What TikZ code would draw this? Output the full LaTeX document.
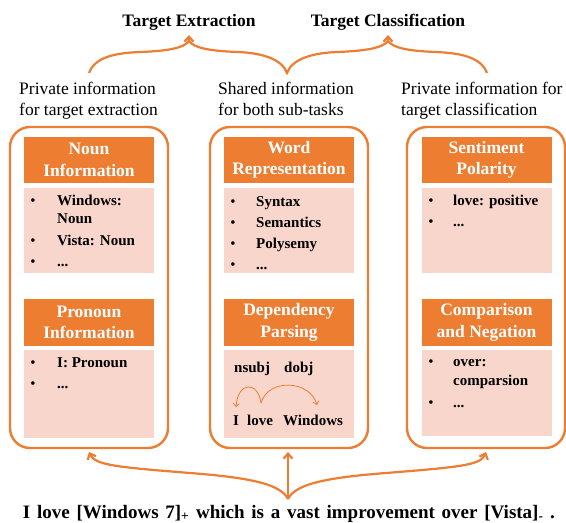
\documentclass[tikz,border=0pt]{standalone}
\usepackage{fontspec}
\setmainfont{Liberation Serif}
\usetikzlibrary{arrows.meta}
\definecolor{orng}{HTML}{ED7D31}
\definecolor{pch}{HTML}{F8D6CC}
\begin{document}
\begin{tikzpicture}[x=1pt,y=-1pt,
  outer/.style={draw=orng,line width=2.4pt,rounded corners=20pt,minimum width=158pt,minimum height=321pt,inner sep=0pt},
  hdr/.style={fill=orng,text=white,font=\bfseries\fontsize{17.5}{21.5}\selectfont,align=center,minimum width=130pt,inner sep=0pt},
  cnt/.style={fill=pch,minimum width=130pt,inner sep=0pt},
  itm/.style={anchor=base west,inner sep=0pt,font=\bfseries\fontsize{15}{18}\selectfont},
  bul/.style={anchor=base,inner sep=0pt,font=\fontsize{15}{18}\selectfont},
  lbl/.style={anchor=base west,inner sep=0pt,font=\fontsize{17.5}{21}\selectfont},
  ttl/.style={anchor=base,inner sep=0pt,font=\bfseries\fontsize{17.5}{21}\selectfont},
  brc/.style={draw=orng,line width=2.2pt},
  arr/.style={-{Straight Barb[length=5pt,width=9pt]}},
  thin/.style={draw=orng,line width=0.8pt,-{Straight Barb[length=3pt,width=6pt]}}
]
\useasboundingbox (0,0) rectangle (566,523);

% titles
\node[ttl] (te) at (189,26) {Target Extraction};
\node[ttl] (tc) at (388,26) {Target Classification};

% labels
\node[lbl] (l1a) at (19,94.5) {Private information};
\node[lbl] (l1b) at (19,115) {for target extraction};
\node[lbl] (l2a) at (218,94.5) {Shared information};
\node[lbl] (l2b) at (218,115) {for both sub-tasks};
\node[lbl] (l3a) at (401,94.5) {Private information for};
\node[lbl] (l3b) at (401,115) {target classification};

% top braces
\coordinate (e1) at (89,73);
\coordinate (t1) at (189,41);
\coordinate (j1) at (287,73);
\coordinate (t2) at (388,41);
\coordinate (e2) at (487,73);
\coordinate (t1h) at (189,35);
\coordinate (t2h) at (388,35);
\draw[brc] (e1) .. controls (95,57) and (115,53) .. (140,52) .. controls (168,51) and (184,48) .. (t1)
  .. controls (194,48) and (210,51) .. (238,52) .. controls (262,53) and (282,59) .. (j1)
  .. controls (292,59) and (312,53) .. (337,52) .. controls (365,51) and (383,48) .. (t2)
  .. controls (393,48) and (409,51) .. (436,52) .. controls (460,53) and (481,57) .. (e2);
\draw[brc,arr] (t1) -- (t1h);
\draw[brc,arr] (t2) -- (t2h);

% outer boxes
\node[outer] (bL) at (89,287.5) {};
\node[outer] (bM) at (289,287.5) {};
\node[outer] (bR) at (486,287.5) {};

% headers
\node[hdr,minimum height=46pt] (hL1) at (89,160) {Noun\\Information};
\node[hdr,minimum height=47pt] (hL2) at (89,322.5) {Pronoun\\Information};
\node[hdr,minimum height=46pt] (hM1) at (289,160) {Word\\Representation};
\node[hdr,minimum height=47pt] (hM2) at (289,322.5) {Dependency\\Parsing};
\node[hdr,minimum height=46pt] (hR1) at (486.5,160) {Sentiment\\Polarity};
\node[hdr,minimum height=47pt] (hR2) at (486.5,322.5) {Comparison\\and Negation};

% content boxes
\node[cnt,minimum height=85pt] (cL1) at (89,230.5) {};
\node[cnt,minimum height=88pt] (cL2) at (89,394) {};
\node[cnt,minimum height=85pt] (cM1) at (289,230.5) {};
\node[cnt,minimum height=88pt] (cM2) at (289,394) {};
\node[cnt,minimum height=85pt] (cR1) at (486.5,230.5) {};
\node[cnt,minimum height=86pt] (cR2) at (486.5,393) {};

% left items
\node[bul] (bL1) at (33,205.5) {•};
\node[itm] (iL1) at (57,205.5) {Windows:};
\node[itm] (iL1b) at (57,223) {Noun};
\node[bul] (bL2) at (33,245) {•};
\node[itm] (iL2) at (57,245) {Vista: Noun};
\node[bul] (bL3) at (33,266.5) {•};
\node[itm] (iL3) at (57,266.5) {...};
\node[bul] (bL4) at (33,367) {•};
\node[itm] (iL4) at (57,367) {I: Pronoun};
\node[bul] (bL5) at (33,388) {•};
\node[itm] (iL5) at (57,388) {...};

% middle items
\node[bul] (bM1) at (233,206) {•};
\node[itm] (iM1) at (256,206) {Syntax};
\node[bul] (bM2) at (233,227) {•};
\node[itm] (iM2) at (256,227) {Semantics};
\node[bul] (bM3) at (233,248) {•};
\node[itm] (iM3) at (256,248) {Polysemy};
\node[bul] (bM4) at (233,269) {•};
\node[itm] (iM4) at (256,269) {...};

% dependency parse
\node[itm] (ns) at (234,372) {nsubj};
\node[itm] (dob) at (284,372) {dobj};
\node[itm] (wI) at (233,425) {I};
\node[itm] (wlove) at (247,425) {love};
\node[itm] (wwin) at (283,425) {Windows};
\coordinate (a0) at (261,403);
\coordinate (a1) at (236,407);
\coordinate (a2) at (317,405);
\draw[thin] (a0) .. controls (258,381) and (238,381) .. (a1);
\draw[thin] (a0) .. controls (268,378) and (310,380) .. (a2);

% right items
\node[bul] (bR1) at (431,205) {•};
\node[itm] (iR1) at (453,205) {love: positive};
\node[bul] (bR2) at (431,226) {•};
\node[itm] (iR2) at (453,226) {...};
\node[bul] (bR3) at (431,366) {•};
\node[itm] (iR3) at (453,366) {over:};
\node[itm] (iR3b) at (453,385) {comparsion};
\node[bul] (bR4) at (431,407) {•};
\node[itm] (iR4) at (453,407) {...};

% bottom brace
\coordinate (jb) at (288,499);
\coordinate (eL) at (89,452);
\coordinate (eM) at (288,452);
\coordinate (eR) at (486,452);
\draw[brc,arr] (jb) .. controls (281,485) and (255,478) .. (190,473) .. controls (115,467) and (95,465) .. (eL);
\draw[brc,arr] (jb) .. controls (295,485) and (321,478) .. (386,473) .. controls (461,467) and (481,465) .. (eR);
\draw[brc,arr] (jb) -- (eM);

% sentence
\node[ttl,font=\bfseries\fontsize{19}{22}\selectfont] (sent) at (289,518) {\makebox[532pt][s]{I love [Windows 7]\textsubscript{+} which is a vast improvement over [Vista]\textsubscript{-} .}};
\end{tikzpicture}
\end{document}
